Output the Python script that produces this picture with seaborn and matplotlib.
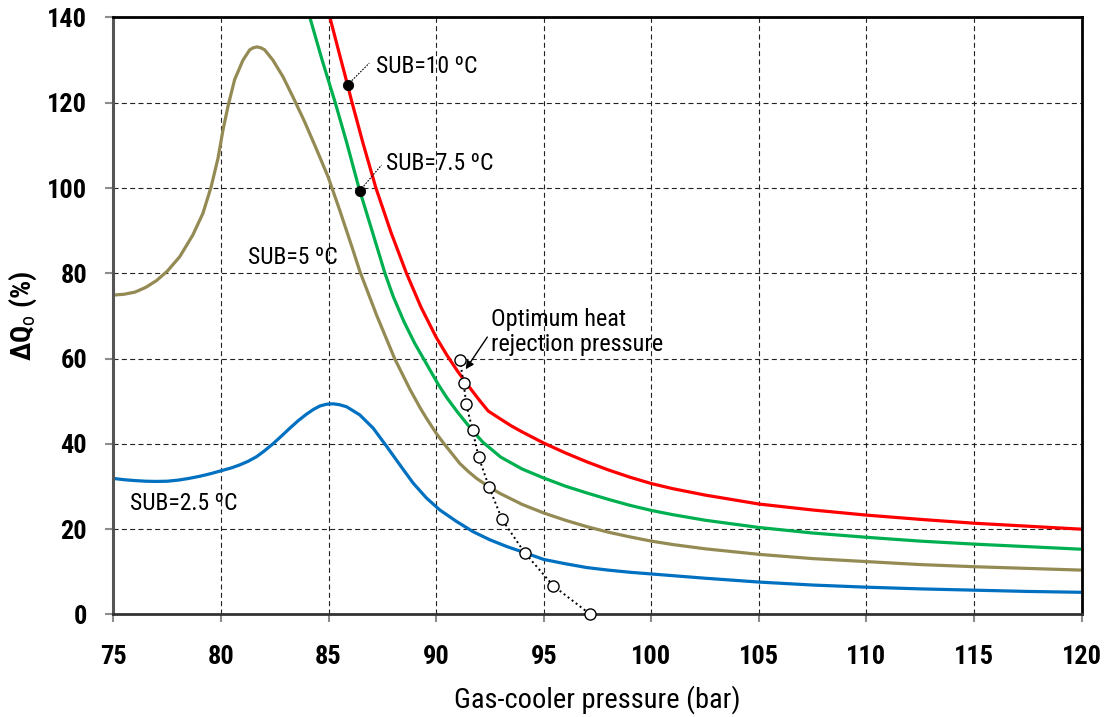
import matplotlib
matplotlib.use("Agg")
import matplotlib.pyplot as plt
from matplotlib import font_manager
import seaborn as sns

# ---------------- data ----------------
red_x = [85.06, 85.5, 85.88, 86.06, 86.6, 87.2, 87.9, 88.62, 89.3, 90.0, 90.5, 91.0, 91.5, 92.0,
         92.42, 93.0, 93.5, 94.0, 95.0, 96.0, 97.0, 98.0, 99.0, 100.0, 101.0, 102.5, 105.0,
         107.5, 110.0, 112.5, 115.0, 117.5, 120.0]
red_y = [140.0, 131.5, 124.2, 120.6, 110.5, 100.0, 89.6, 80.0, 72.0, 65.0, 60.8, 57.0, 53.6, 50.3,
         47.7, 45.8, 44.2, 42.8, 40.2, 37.9, 35.8, 33.9, 32.2, 30.7, 29.5, 28.0, 25.9,
         24.5, 23.3, 22.3, 21.4, 20.7, 20.0]

green_x = [84.13, 84.7, 85.31, 85.85, 86.41, 87.0, 87.62, 88.0, 88.5, 89.0, 89.41, 90.09, 90.5,
           91.0, 91.69, 92.17, 93.0, 94.0, 95.0, 96.0, 97.0, 98.0, 99.0, 100.0, 101.0, 102.5,
           105.0, 107.5, 110.0, 112.5, 115.0, 117.5, 120.0]
green_y = [140.0, 130.0, 120.0, 110.5, 100.0, 90.3, 80.0, 74.6, 68.7, 63.6, 60.0, 54.0, 50.8,
           47.4, 43.1, 40.4, 36.9, 34.1, 32.0, 30.1, 28.5, 27.0, 25.6, 24.4, 23.4, 22.1,
           20.4, 19.1, 18.1, 17.2, 16.5, 15.9, 15.3]

brown_x = [75.0, 75.5, 76.0, 76.5, 77.0, 77.5, 78.08, 78.69, 79.16, 79.54, 79.86, 80.09, 80.32,
           80.63, 81.02, 81.33, 81.5, 81.67, 81.85, 82.03, 82.41, 82.88, 83.34, 83.88, 84.42,
           84.97, 85.51, 86.13, 86.45, 87.23, 88.07, 88.78, 89.26, 89.55, 90.0, 90.34, 91.1,
           91.5, 91.88, 92.46, 92.96, 94.0, 95.0, 96.0, 97.0, 98.0, 99.0, 100.0, 101.0, 102.5,
           105.0, 107.5, 110.0, 112.5, 115.0, 117.5, 120.0]
brown_y = [74.9, 75.1, 75.6, 76.7, 78.3, 80.5, 83.9, 89.0, 94.1, 100.3, 107.0, 113.6, 119.1,
           125.4, 130.0, 132.4, 132.9, 133.1, 132.9, 132.4, 130.0, 126.1, 121.4, 115.6, 109.3,
           102.7, 94.9, 85.5, 80.5, 70.2, 60.0, 52.8, 48.4, 46.0, 42.5, 40.2, 35.4,
           33.5, 31.9, 29.9, 28.4, 25.8, 23.8, 22.1, 20.6, 19.3, 18.2, 17.2, 16.4, 15.4,
           14.1, 13.1, 12.4, 11.7, 11.2, 10.8, 10.4]

blue_x = [75.0, 75.5, 76.0, 76.5, 77.0, 77.5, 78.0, 78.5, 79.0, 79.5, 80.0, 80.5, 80.88, 81.25,
          81.65, 82.0, 82.43, 82.8, 83.2, 83.6, 83.98, 84.3, 84.6, 84.9, 85.21, 85.5, 85.84,
          86.45, 87.07, 87.70, 88.31, 88.93, 89.55, 90.17, 90.95, 91.72, 92.5, 93.3, 94.11,
          95.0, 96.0, 97.0, 98.0, 99.0, 100.0, 101.0, 102.5, 105.0, 107.5, 110.0, 112.5,
          115.0, 117.5, 120.0]
blue_y = [31.9, 31.6, 31.4, 31.25, 31.2, 31.25, 31.5, 31.9, 32.4, 33.0, 33.7, 34.4, 35.1, 35.9,
          37.0, 38.3, 40.1, 41.8, 43.7, 45.5, 47.0, 48.1, 48.9, 49.3, 49.4, 49.2, 48.7,
          46.8, 43.7, 39.4, 35.1, 30.8, 27.3, 24.5, 21.8, 19.4, 17.5, 15.9, 14.5,
          12.9, 11.9, 11.0, 10.4, 9.9, 9.5, 9.1, 8.5, 7.6, 6.9, 6.4, 6.0,
          5.7, 5.4, 5.2]

opt_x = [91.10, 91.27, 91.40, 91.69, 91.97, 92.45, 93.06, 94.11, 95.45, 97.17]
opt_y = [59.7, 54.4, 49.3, 43.2, 37.0, 30.0, 22.3, 14.5, 6.7, 0.0]

dot_x = [85.88, 86.45]
dot_y = [124.2, 99.4]

curve_labels = ["SUB=10 ºC", "SUB=7.5 ºC", "SUB=5 ºC", "SUB=2.5 ºC"]
x_ticks = [75, 80, 85, 90, 95, 100, 105, 110, 115, 120]
y_ticks = [0, 20, 40, 60, 80, 100, 120, 140]
x_label = "Gas-cooler pressure (bar)"
y_label = "ΔQ$_\\mathrm{o}$ (%)"
opt_label = "Optimum heat\nrejection pressure"

# ---------------- style ----------------
sns.set_theme(style="white")
names = {f.name for f in font_manager.fontManager.ttflist}
narrow = None
for cand in ["Liberation Sans Narrow", "Arial Narrow", "Roboto Condensed", "Open Sans Condensed"]:
    if cand in names:
        narrow = cand
        break
if narrow:
    main_font = narrow
    fs_tick, fs_ann, fs_opt, fs_lab = 19, 17, 17.5, 20.5
else:
    main_font = "Liberation Sans"
    fs_tick, fs_ann, fs_opt, fs_lab = 16.5, 14.6, 15.8, 17.6
plt.rcParams["font.family"] = [main_font, "DejaVu Sans"]
plt.rcParams["mathtext.fontset"] = "custom"
plt.rcParams["mathtext.rm"] = main_font
plt.rcParams["mathtext.it"] = main_font
plt.rcParams["mathtext.bf"] = main_font + ":bold"

fig = plt.figure(figsize=(11.08, 7.17), dpi=100)
ax = fig.add_axes([0.1024, 0.1430, 0.8738, 0.8326])

curves = [
    (red_x, red_y, "#FF0000"),
    (green_x, green_y, "#00B050"),
    (brown_x, brown_y, "#948A54"),
    (blue_x, blue_y, "#0070C0"),
]
for cx, cy, col in curves:
    sns.lineplot(x=cx, y=cy, ax=ax, color=col, linewidth=2.3, estimator=None, sort=False,
                 zorder=3)
for ln in ax.get_lines():
    ln.set_solid_joinstyle("round")
    ln.set_solid_capstyle("butt")

# optimum pressure line
sns.lineplot(x=opt_x, y=opt_y, ax=ax, color="black", linewidth=1.4, linestyle=(0, (1, 1.6)),
             estimator=None, sort=False, marker="o", markersize=8, markerfacecolor="white",
             markeredgecolor="black", markeredgewidth=1.0, zorder=5, clip_on=False)

# black dots on red & green
sns.scatterplot(x=dot_x, y=dot_y, ax=ax, color="black", s=55, edgecolor="black", zorder=6)

# leader lines
ax.plot([dot_x[0], 86.89], [dot_y[0], 129.3], color="black", lw=0.8, ls=(0, (1.5, 1.2)), zorder=4)
ax.plot([dot_x[1], 87.46], [dot_y[1], 105.4], color="black", lw=0.8, ls=(0, (1.5, 1.2)), zorder=4)

ax.text(87.2, 128.5, curve_labels[0], fontsize=fs_ann, va="center", ha="left", color="black")
ax.text(87.69, 105.8, curve_labels[1], fontsize=fs_ann, va="center", ha="left", color="black")
ax.text(81.27, 83.8, curve_labels[2], fontsize=fs_ann, va="center", ha="left", color="black")
ax.text(75.77, 26.1, curve_labels[3], fontsize=fs_ann, va="center", ha="left", color="black")

ax.annotate(opt_label, xy=(91.37, 57.5), xytext=(92.53, 66.2), fontsize=fs_opt,
            va="center", ha="left", linespacing=1.1, color="black",
            arrowprops=dict(arrowstyle="-|>", color="black", lw=1.0, mutation_scale=12,
                            shrinkA=0, shrinkB=0, relpos=(0.0, 0.5)))

# axes
ax.set_xlim(75, 120)
ax.set_ylim(0, 140)
ax.set_xticks(x_ticks)
ax.set_yticks(y_ticks)
ax.set_xticklabels([str(t) for t in x_ticks], fontsize=fs_tick, fontweight="bold")
ax.set_yticklabels([str(t) for t in y_ticks], fontsize=fs_tick, fontweight="bold")
ax.tick_params(axis="x", direction="out", length=6, width=1.5, color="#8c8c8c", pad=16,
               labelcolor="black", bottom=True)
ax.tick_params(axis="y", direction="out", length=6, width=1.5, color="#8c8c8c", pad=13,
               labelcolor="black", left=True)
ax.set_xlabel(x_label, fontsize=fs_lab, labelpad=12, color="black")
ax.set_ylabel(y_label, fontsize=fs_lab, fontweight="bold", labelpad=6, color="black")

ax.grid(True, color="#222222", linestyle=(0, (4.5, 3)), linewidth=0.8)
ax.set_axisbelow(True)
for side in ["top", "right"]:
    ax.spines[side].set_visible(True)
    ax.spines[side].set_color("black")
    ax.spines[side].set_linewidth(2.0)
ax.spines["left"].set_color("#555555")
ax.spines["left"].set_linewidth(2.2)
ax.spines["bottom"].set_color("#333333")
ax.spines["bottom"].set_linewidth(2.0)
for s in ax.spines.values():
    s.set_zorder(4)

fig.savefig("out.png", dpi=100)
